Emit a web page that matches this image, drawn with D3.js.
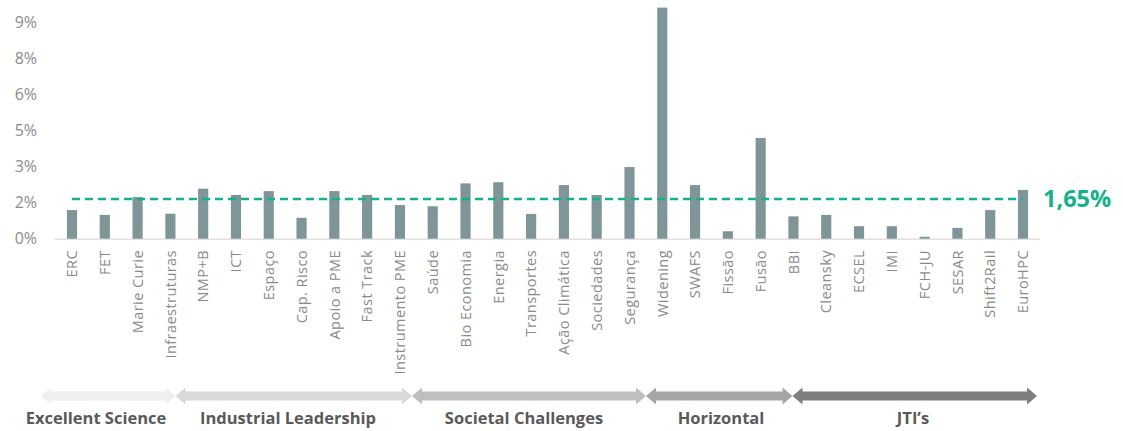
<!DOCTYPE html>
<html>
<head>
<meta charset="utf-8">
<script src="https://cdn.jsdelivr.net/npm/d3@7"></script>
<style>
  html, body { margin: 0; padding: 0; background: #ffffff; }
  svg { display: block; }
</style>
</head>
<body>
<svg id="chart" width="1123" height="431"></svg>
<script>
// ---- data ----
const categories = ["ERC","FET","Marie Curie","Infraestruturas","NMP+B","ICT","Espaço","Cap. Risco","Apoio a PME","Fast Track","Instrumento PME","Saúde","Bio Economia","Energia","Transportes","Ação Climática","Sociedades","Segurança","Widening","SWAFS","Fissão","Fusão","BBI","Cleansky","ECSEL","IMI","FCH-JU","SESAR","Shift2Rail","EuroHPC"];
const values = [1.19,0.99,1.73,1.04,2.08,1.82,1.98,0.87,1.98,1.82,1.40,1.35,2.30,2.35,1.03,2.23,1.82,2.98,9.61,2.23,0.31,4.19,0.93,0.99,0.52,0.52,0.08,0.45,1.19,2.03];
const average = 1.65;
const averageLabel = "1,65%";
const yTicks = [0,1.5,3,4.5,6,7.5,9];
const groups = ["Excellent Science","Industrial Leadership","Societal Challenges","Horizontal","JTI’s"];
const groupColors = ["#efefef","#d9d9d9","#bfbfbf","#a6a6a6","#7f7f7f"];

// ---- layout ----
const svg = d3.select("#chart");
const x = d3.scaleBand().domain(categories).range([55.6, 1039.4]).paddingInner(0.69).paddingOuter(0.345);
const y = d3.scaleLinear().domain([0, 9]).range([238.7, 22.3]);

// y tick labels
svg.append("g").selectAll("text").data(yTicks).join("text")
  .attr("x", 37).attr("y", d => y(d)).attr("dy", "0.36em")
  .attr("text-anchor", "end")
  .attr("font-family", "Open Sans, sans-serif").attr("font-size", 16)
  .attr("fill", "#8c8c8c")
  .text(d => Math.round(d) + "%");

// baseline
svg.append("line").attr("x1", 55).attr("x2", 1040).attr("y1", y(0) + 0.5).attr("y2", y(0) + 0.5)
  .attr("stroke", "#d9d9d9").attr("stroke-width", 1.2);

// bars
svg.append("g").selectAll("rect").data(values).join("rect")
  .attr("x", (d, i) => x(categories[i]))
  .attr("width", x.bandwidth())
  .attr("y", d => y(d))
  .attr("height", d => y(0) - y(d))
  .attr("fill", "#7f9699");

// average dashed line
const first = x(categories[0]) + x.bandwidth() / 2;
const last = x(categories[categories.length - 1]) + x.bandwidth() / 2;
svg.append("line").attr("x1", first).attr("x2", last)
  .attr("y1", y(average)).attr("y2", y(average))
  .attr("stroke", "#12b38a").attr("stroke-width", 2.6).attr("stroke-dasharray", "8,5");
svg.append("text").attr("x", 1043).attr("y", y(average)).attr("dy", "0.36em")
  .attr("font-family", "Open Sans, sans-serif").attr("font-weight", "bold").attr("font-size", 23.5)
  .attr("fill", "#12b38a").text(averageLabel);

// category labels
svg.append("g").selectAll("text").data(categories).join("text")
  .attr("transform", d => `translate(${x(d) + x.bandwidth() / 2},250) rotate(-90)`)
  .attr("dy", "0.36em")
  .attr("text-anchor", "end")
  .attr("font-family", "Open Sans, sans-serif").attr("font-size", 14.5)
  .attr("letter-spacing", 0.45)
  .attr("fill", "#8a8a8a")
  .text(d => d);

// group arrows
const bounds = [41, 175.5, 412, 646, 792.5, 1037];
const cy = 396, sh = 4.5, hh = 8.5, hl = 10;
function arrowPath(a, b) {
  return `M${a},${cy} L${a + hl},${cy - hh} L${a + hl},${cy - sh} L${b - hl},${cy - sh} L${b - hl},${cy - hh} L${b},${cy} L${b - hl},${cy + hh} L${b - hl},${cy + sh} L${a + hl},${cy + sh} L${a + hl},${cy + hh} Z`;
}
const gg = svg.append("g");
groups.forEach((g, i) => {
  gg.append("path").attr("d", arrowPath(bounds[i], bounds[i + 1])).attr("fill", groupColors[i]);
});
const labelCenters = [96, 288, 524, 721, 913];
groups.forEach((g, i) => {
  gg.append("text").attr("x", labelCenters[i]).attr("y", 424)
    .attr("text-anchor", "middle")
    .attr("font-family", "Open Sans, sans-serif").attr("font-weight", "bold").attr("font-size", 16.5)
    .attr("fill", "#595959").text(g);
});
</script>
</body>
</html>
